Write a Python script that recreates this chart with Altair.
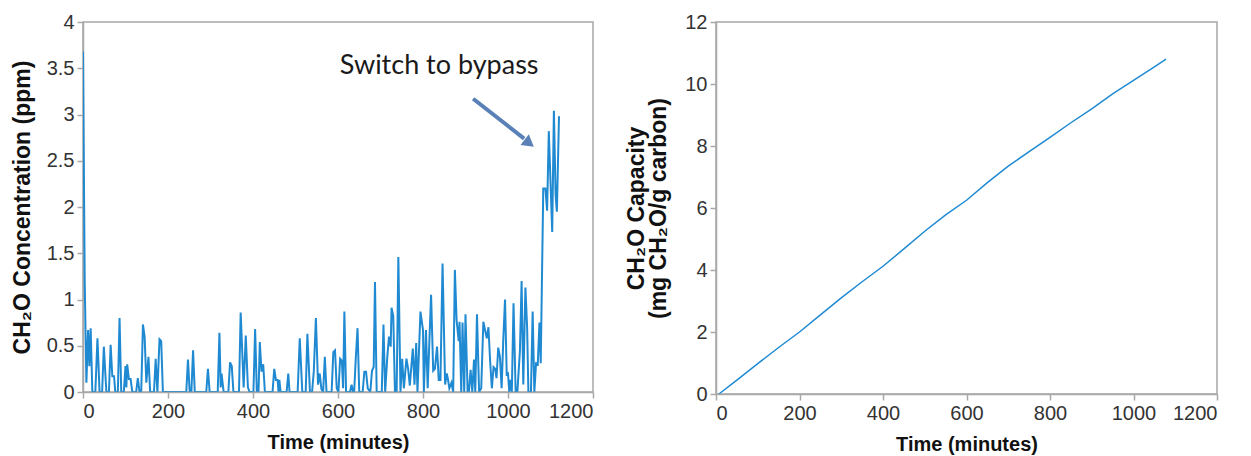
import altair as alt
import pandas as pd

# ---------------- data: left panel (CH2O concentration, ppm) ----------------
t_a = [0, 4, 8, 12, 15, 18, 22, 29, 34, 39, 45, 49, 55, 61, 65, 69, 73, 76, 82, 86,
       90, 96, 100, 102, 104, 108, 112, 116, 125, 129, 133, 137, 141, 145, 149, 154,
       158, 167, 171, 175, 180, 184, 188]
c_a = [3.68, 1.2, 0.1, 0.67, 0.28, 0.69, 0, 0, 0.58, 0, 0, 0.49, 0, 0, 0.51, 0.17, 0.17, 0, 0, 0.80,
       0, 0, 0.28, 0.05, 0.30, 0.14, 0.14, 0, 0, 0.15, 0, 0, 0.73, 0.6, 0.1, 0.38,
       0, 0, 0.36, 0, 0.57, 0.55, 0]

t_b = [243, 247, 251, 255, 259, 263, 290, 294, 298, 317, 321, 324, 326, 331, 342, 346, 350, 354,
       367, 371, 378, 383, 388, 392, 401, 405, 409, 413, 416, 420, 424, 428, 446, 450, 454, 458,
       460, 462, 465]
c_b = [0, 0.35, 0, 0, 0.45, 0, 0, 0.25, 0, 0, 0.64, 0.05, 0.2, 0, 0, 0.32, 0.28, 0,
       0, 0.86, 0.05, 0.61, 0.05, 0, 0, 0.68, 0, 0, 0.54, 0.22, 0.30, 0, 0, 0.25, 0.13, 0.13,
       0, 0.13, 0]

t_c = [479, 483, 486, 505, 510, 516, 524, 528, 534, 539, 543, 548, 553, 557, 561, 565, 569, 573,
       585, 589, 593, 597, 601, 605, 609, 612, 615, 619, 628, 632, 635, 638, 642, 646, 650, 658,
       662, 666, 670, 676, 680, 684, 687, 691]
c_c = [0, 0.2, 0, 0, 0.58, 0, 0, 0.63, 0, 0, 0.22, 0.80, 0.08, 0.2, 0.03, 0, 0.38, 0,
       0, 0.43, 0.45, 0.04, 0, 0.36, 0.34, 0.04, 0.87, 0, 0, 0.08, 0, 0, 0.38, 0.69, 0, 0,
       0.22, 0.22, 0.04, 0, 0.23, 0.27, 1.19, 0]

t_d = [703, 707, 711, 716, 720, 724, 726, 730, 734, 738, 742, 747, 751, 755, 761, 765, 769, 776,
       780, 784, 787, 794, 800, 802, 807, 811, 819, 824, 828, 833, 837, 841, 846, 852, 856, 859,
       862, 867, 871]
c_d = [0, 0.73, 0, 0.38, 0.6, 0.49, 0.91, 0.82, 0, 0, 1.46, 0, 0.36, 0.04, 0.36, 0.25, 0.07, 0.47,
       0.08, 0.53, 0, 0.87, 0.67, 0, 0.67, 0.04, 1.05, 0.23, 0.25, 0.49, 0.13, 0.13, 1.39, 0.08, 0.2, 0.13,
       0.04, 0.1, 0]

t_e = [875, 879, 884, 886, 890, 893, 897, 900, 905, 908, 912, 916, 920, 923, 927, 932, 937, 942,
       946, 950, 954, 958, 962, 966, 970, 973, 977, 981, 985, 989, 993, 997, 1000, 1003, 1006, 1009,
       1013, 1018, 1022, 1028, 1032, 1036, 1041, 1045, 1048, 1054, 1058, 1062, 1066, 1070, 1074, 1077,
       1083, 1088, 1092, 1096, 1104, 1108, 1112, 1115, 1120]
c_e = [1.32, 0.78, 0.55, 0.76, 0, 0.75, 0, 0.84, 0, 0, 0.24, 0, 0.35, 0, 0.84, 0, 0.04, 0.76,
       0.67, 0.58, 0.70, 0.33, 0.04, 0.27, 0.25, 0.15, 0.48, 0.38, 0.04, 0.58, 1.0, 0.19, 0.2, 0, 0.13, 0,
       0.96, 0, 0, 0.44, 1.2, 0.08, 1.13, 0.7, 0, 0, 0.87, 0, 0.31, 0.3, 0.75, 0.31,
       2.2, 2.2, 1.96, 2.82, 1.73, 3.04, 2.13, 1.95, 2.98]

# ---------------- data: right panel (CH2O capacity) ----------------
cap_time = [7, 50, 100, 150, 200, 250, 300, 350, 400, 450, 500, 550, 600, 650, 700, 750,
            800, 850, 900, 950, 1000, 1050, 1078]
cap_value = [0, 0.45, 0.98, 1.5, 2.0, 2.55, 3.1, 3.62, 4.12, 4.68, 5.25, 5.78, 6.25, 6.82, 7.35, 7.82,
             8.28, 8.75, 9.2, 9.68, 10.12, 10.55, 10.8]

x_ticks = [0, 200, 400, 600, 800, 1000, 1200]
conc_ticks = [0, 0.5, 1, 1.5, 2, 2.5, 3, 3.5, 4]
cap_ticks = [0, 2, 4, 6, 8, 10, 12]

annotation_text = ["Switch to bypass"]
annotation_pos = [(838, 3.52)]
arrow_from = (918, 3.17)
arrow_to = (1038, 2.74)
arrow_head = (1050, 2.69)

conc_time = t_a + t_b + t_c + t_d + t_e
conc_value = c_a + c_b + c_c + c_d + c_e
assert len(conc_time) == len(conc_value)
assert len(cap_time) == len(cap_value)

BLUE = "#1f8ad2"
GRAY = "#a8a8a8"
ARROW = "#5a80b8"
FONT = "Liberation Sans"

left_df = pd.DataFrame({"t": conc_time, "c": conc_value})
right_df = pd.DataFrame({"t": cap_time, "q": cap_value})

def x_enc():
    return alt.X(
        "t:Q",
        scale=alt.Scale(domain=[0, 1200], nice=False),
        axis=alt.Axis(title="Time (minutes)", values=x_ticks, format="d", zindex=1,
                      titlePadding=11, titleFontSize=20),
    )

# left panel
line_left = alt.Chart(left_df).mark_line(color=BLUE, strokeWidth=2, clip=True).encode(
    x=x_enc(),
    y=alt.Y(
        "c:Q",
        scale=alt.Scale(domain=[0, 4], nice=False),
        axis=alt.Axis(title="CH₂O Concentration (ppm)", values=conc_ticks,
                      labelExpr="datum.value + ''", titlePadding=12, titleFontSize=23),
    ),
)

ann_df = pd.DataFrame({"t": [p[0] for p in annotation_pos], "c": [p[1] for p in annotation_pos],
                       "label": annotation_text})
ann_text = alt.Chart(ann_df).mark_text(font="Lato", fontSize=27, color="#1a1a1a",
                                       align="center", baseline="middle").encode(
    x="t:Q", y="c:Q", text="label:N")

arrow_df = pd.DataFrame({"t": [arrow_from[0]], "c": [arrow_from[1]],
                         "t2": [arrow_to[0]], "c2": [arrow_to[1]]})
arrow_line = alt.Chart(arrow_df).mark_rule(color=ARROW, strokeWidth=4).encode(
    x="t:Q", y="c:Q", x2="t2:Q", y2="c2:Q")
head_df = pd.DataFrame({"t": [arrow_head[0]], "c": [arrow_head[1]]})
arrow_tip = alt.Chart(head_df).mark_point(shape="triangle-up", filled=True, color=ARROW,
                                          size=180, angle=128, opacity=1).encode(
    x="t:Q", y="c:Q")

left = alt.layer(line_left, ann_text, arrow_line, arrow_tip).properties(width=510, height=370)

# right panel
right = alt.Chart(right_df).mark_line(color=BLUE, strokeWidth=1.5).encode(
    x=x_enc(),
    y=alt.Y(
        "q:Q",
        scale=alt.Scale(domain=[0, 12], nice=False),
        axis=alt.Axis(title=["CH₂O Capacity", "(mg CH₂O/g carbon)"], values=cap_ticks,
                      titlePadding=14, titleFontSize=23, titleLineHeight=22),
    ),
).properties(width=501, height=372)

chart = alt.hconcat(left, right, spacing=30).properties(
    padding={"left": 10, "top": 11, "right": 10, "bottom": 0},
    background="white",
).configure_view(
    stroke=GRAY, strokeWidth=1.5
).configure_axis(
    grid=False,
    domainColor=GRAY,
    domainWidth=1.5,
    tickColor=GRAY,
    tickSize=6,
    tickWidth=1.5,
    labelFont=FONT,
    labelFontSize=20,
    labelColor="#333333",
    labelPadding=3,
    titleFont=FONT,
    titleFontSize=20,
    titleFontWeight="bold",
    titleColor="#111111",
)

chart.save("out.html", embed_options={"renderer": "svg", "actions": False})
